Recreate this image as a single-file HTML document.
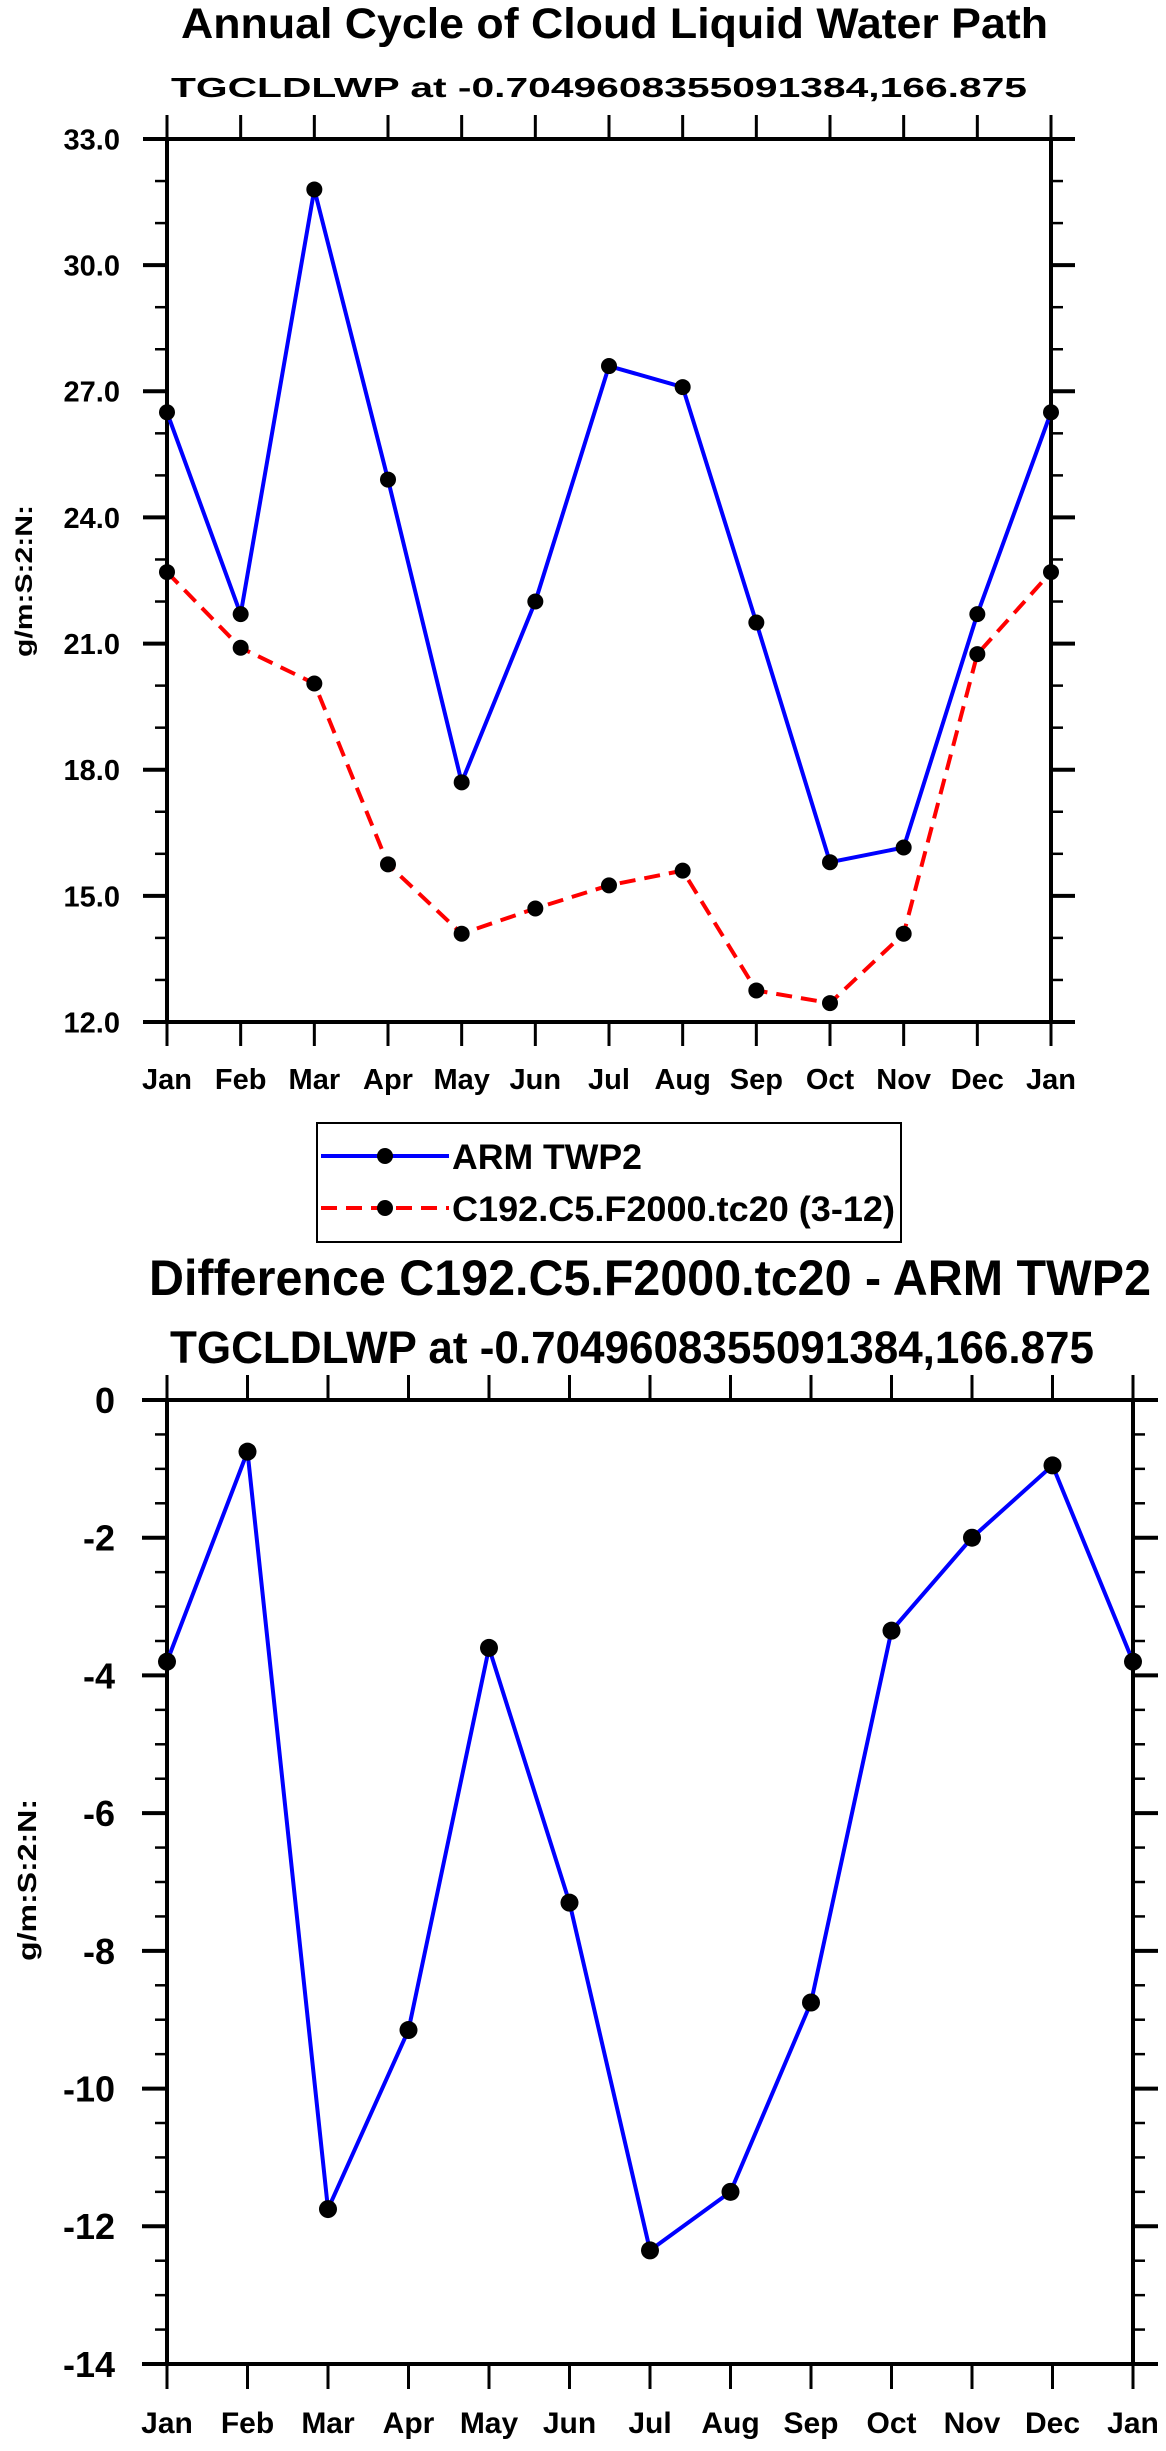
<!DOCTYPE html>
<html><head><meta charset="utf-8"><style>
html,body{margin:0;padding:0;background:#fff;}
svg{display:block;font-family:"Liberation Sans",Arial,sans-serif;font-weight:bold;}
</style></head><body>
<svg id="svg" width="1166" height="2451" viewBox="0 0 1166 2451" xmlns="http://www.w3.org/2000/svg">
<text x="181" y="38" font-size="43" textLength="867" lengthAdjust="spacingAndGlyphs">Annual Cycle of Cloud Liquid Water Path</text>
<text x="171" y="97" font-size="28" textLength="856" lengthAdjust="spacingAndGlyphs">TGCLDLWP at -0.7049608355091384,166.875</text>
<text transform="translate(32,581) rotate(-90)" text-anchor="middle" font-size="24" textLength="152" lengthAdjust="spacingAndGlyphs">g/m:S:2:N:</text>
<g id="top"></g>
<g>
<rect x="317" y="1123" width="584" height="119" fill="none" stroke="#000" stroke-width="2"/>
<g>
<line x1="321" y1="1156" x2="449" y2="1156" stroke="#0000ff" stroke-width="4"/>
<circle cx="385" cy="1156" r="8"/>
<text x="452" y="1169" font-size="35" textLength="190" lengthAdjust="spacingAndGlyphs">ARM TWP2</text>
</g>
<g>
<line x1="321" y1="1208" x2="449" y2="1208" stroke="#ff0000" stroke-width="4" stroke-dasharray="16,9"/>
<circle cx="385" cy="1208" r="8"/>
<text x="452" y="1221" font-size="35" textLength="443" lengthAdjust="spacingAndGlyphs">C192.C5.F2000.tc20 (3-12)</text>
</g>
</g>
<text x="149" y="1295" font-size="50" textLength="1002" lengthAdjust="spacingAndGlyphs">Difference C192.C5.F2000.tc20 - ARM TWP2</text>
<text x="170" y="1363" font-size="45" textLength="924" lengthAdjust="spacingAndGlyphs">TGCLDLWP at -0.7049608355091384,166.875</text>
<text transform="translate(36,1880) rotate(-90)" text-anchor="middle" font-size="26" textLength="162" lengthAdjust="spacingAndGlyphs">g/m:S:2:N:</text>
<g id="bot"></g>
</svg>
<script>
const months = ["Jan","Feb","Mar","Apr","May","Jun","Jul","Aug","Sep","Oct","Nov","Dec","Jan"];
const armValues = [26.5,21.7,31.8,24.9,17.7,22.0,27.6,27.1,21.5,15.8,16.15,21.7,26.5];
const modelValues = [22.7,20.9,20.05,15.75,14.1,14.7,15.25,15.6,12.75,12.45,14.1,20.75,22.7];
const diffValues = [-3.8,-0.75,-11.75,-9.15,-3.6,-7.3,-12.35,-11.5,-8.75,-3.35,-2.0,-0.95,-3.8];
const topYTicks = [12,15,18,21,24,27,30,33];
const topYLabels = ["12.0","15.0","18.0","21.0","24.0","27.0","30.0","33.0"];
const botYTicks = [-14,-12,-10,-8,-6,-4,-2,0];
const botYLabels = ["-14","-12","-10","-8","-6","-4","-2","0"];
const NS="http://www.w3.org/2000/svg";
function mk(p,tag,a){const e=document.createElementNS(NS,tag);for(const k in a)e.setAttribute(k,a[k]);p.appendChild(e);return e;}
function plot(g,o){
  const xs=i=>o.x0+(o.x1-o.x0)*i/(months.length-1);
  const ys=v=>o.y1-(v-o.ymin)/(o.ymax-o.ymin)*(o.y1-o.y0);
  // minor ticks
  for(let v=o.ymin;v<=o.ymax+1e-9;v+=o.minor){
    [[o.x0,o.x0-o.mnl],[o.x1,o.x1+o.mnl]].forEach(([a,b])=>{
      const t=mk(g,'line',{x1:a,x2:b,y1:ys(v),y2:ys(v),stroke:'#000','stroke-width':2.5});
      
      
    });
  }
  o.yt.forEach((v,i)=>{
    [[o.x0,o.x0-o.mjl],[o.x1,o.x1+o.mjl]].forEach(([a,b])=>{
      const t=mk(g,'line',{x1:a,x2:b,y1:ys(v),y2:ys(v),stroke:'#000','stroke-width':4});
      
      
    });
    const tx=mk(g,'text',{x:o.lx,y:ys(v)+o.yfs*0.36,'text-anchor':'end','font-size':o.yfs});
    tx.textContent=o.yl[i];
    
    
  });
  months.forEach((m,i)=>{
    [[o.y0,o.y0-o.mjl],[o.y1,o.y1+o.mjl]].forEach(([a,b])=>{
      const t=mk(g,'line',{x1:xs(i),x2:xs(i),y1:a,y2:b,stroke:'#000','stroke-width':3});
      
      
    });
    const tx=mk(g,'text',{x:xs(i),y:o.mly,'text-anchor':'middle','font-size':o.xfs});
    tx.textContent=m;
    
    
  });
  const fr=mk(g,'rect',{x:o.x0,y:o.y0,width:o.x1-o.x0,height:o.y1-o.y0,fill:'none',stroke:'#000','stroke-width':4});
  
  
  o.series.forEach(s=>{
    const pl=mk(g,'polyline',{points:s.v.map((v,i)=>xs(i)+','+ys(v)).join(' '),fill:'none',stroke:s.c,'stroke-width':4,'stroke-dasharray':s.d||'none'});
    
    
    s.v.forEach((v,i)=>{
      const c=mk(g,'circle',{cx:xs(i),cy:ys(v),r:o.r,fill:'#000'});
      
      
    });
  });
}
plot(document.getElementById('top'),{x0:167,x1:1051,y0:139,y1:1022,ymin:12,ymax:33,minor:1,mjl:24,mnl:12,
  yt:topYTicks,yl:topYLabels,lx:120,yfs:29,xfs:29,mly:1089,r:8,
  series:[{v:modelValues,c:'#ff0000',d:'16,9',n:'model'},{v:armValues,c:'#0000ff',n:'arm'}]});
plot(document.getElementById('bot'),{x0:167,x1:1133,y0:1400,y1:2364,ymin:-14,ymax:0,minor:0.5,mjl:25,mnl:12,
  yt:botYTicks,yl:botYLabels,lx:115,yfs:36,xfs:30,mly:2433,r:9,
  series:[{v:diffValues,c:'#0000ff',n:'difference'}]});
</script>
</body></html>
